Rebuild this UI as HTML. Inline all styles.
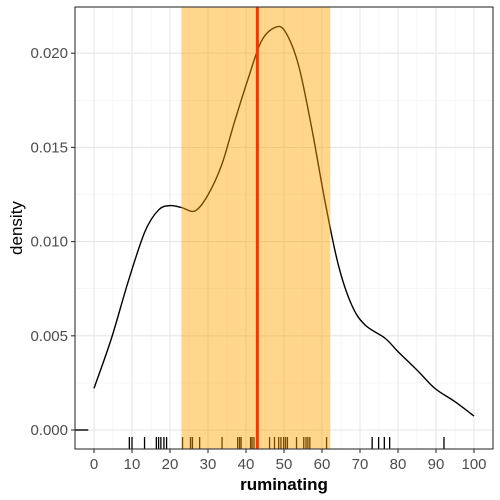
<!DOCTYPE html>
<html><head><meta charset="utf-8"><style>
body{margin:0;background:#fff;}
svg{display:block;font-family:"Liberation Sans",sans-serif;}
</style></head><body>
<svg id="chart" width="500" height="500"></svg>
<script>
const xTicks=[0,10,20,30,40,50,60,70,80,90,100];
const yTicks=[0,0.005,0.010,0.015,0.020];
const yTickLabels=["0.000","0.005","0.010","0.015","0.020"];
const curveX=[0,4.6,9,13.4,17,20,23,26.6,30,33.6,37,40.6,44,47.6,50.3,53.8,57.3,60.8,64.3,67.8,71.3,76.6,80,85.4,89.7,95,100];
const curveY=[0.00221,0.00487,0.00788,0.01053,0.01168,0.01191,0.01181,0.01163,0.01248,0.01407,0.01637,0.01867,0.02062,0.02136,0.02115,0.01938,0.01602,0.01212,0.00876,0.00664,0.00558,0.00487,0.00416,0.0031,0.00221,0.0015,0.00074];
const rugValues=[9.3,10.0,13.3,16.4,17.0,17.6,18.4,19.1,23.3,25.4,25.9,27.8,33.7,37.8,38.3,38.7,41.2,41.6,42.1,42.8,46.2,47.5,48.6,49.2,49.9,50.4,50.9,53.3,55.2,55.8,56.3,56.8,61.2,73.2,74.9,76.4,77.8,92.1];
const bandRange=[23.0,62.2];
const meanValue=43.0;

const L=75,R=493,T=7,B=449;
const sx=v=>94+v*3.8;
const sy=v=>430-v/0.005*94.2;
const svg=document.getElementById('chart');
const NS='http://www.w3.org/2000/svg';
function add(tag,attrs,parent){const e=document.createElementNS(NS,tag);for(const k in attrs)e.setAttribute(k,attrs[k]);(parent||svg).appendChild(e);return e;}

for(let v=-5;v<=105;v+=10){const x=sx(v);if(x>L&&x<R){const g=add('line',{x1:x,x2:x,y1:T,y2:B,stroke:'#f0f0f0','stroke-width':0.6});

}}
for(let v=-0.0025;v<=0.0225;v+=0.005){const y=sy(v);if(y>T&&y<B){const g=add('line',{x1:L,x2:R,y1:y,y2:y,stroke:'#f0f0f0','stroke-width':0.6});

}}
xTicks.forEach(v=>{const g=add('line',{x1:sx(v),x2:sx(v),y1:T,y2:B,stroke:'#e6e6e6','stroke-width':1.1});

});
yTicks.forEach(v=>{const g=add('line',{x1:L,x2:R,y1:sy(v),y2:sy(v),stroke:'#e6e6e6','stroke-width':1.1});

});

// smooth density curve (Catmull-Rom -> bezier)
const pts=curveX.map((x,i)=>[sx(x),sy(curveY[i])]);
let d='M'+pts[0][0]+','+pts[0][1];
for(let i=0;i<pts.length-1;i++){
  const p0=pts[Math.max(0,i-1)],p1=pts[i],p2=pts[i+1],p3=pts[Math.min(pts.length-1,i+2)];
  const c1=[p1[0]+(p2[0]-p0[0])/6,p1[1]+(p2[1]-p0[1])/6];
  const c2=[p2[0]-(p3[0]-p1[0])/6,p2[1]-(p3[1]-p1[1])/6];
  d+=' C'+c1[0]+','+c1[1]+' '+c2[0]+','+c2[1]+' '+p2[0]+','+p2[1];
}
const c=add('path',{d:d,fill:'none',stroke:'#000','stroke-width':1.4,'stroke-linejoin':'round'});


const z=add('line',{x1:L,x2:sx(-1.5),y1:sy(0),y2:sy(0),stroke:'#000','stroke-width':1.4});



rugValues.forEach(v=>{const r=add('line',{x1:sx(v),x2:sx(v),y1:437,y2:449,stroke:'#000','stroke-width':1.3});

});

const band=add('rect',{x:sx(bandRange[0]),y:T,width:sx(bandRange[1])-sx(bandRange[0]),height:B-T,fill:'rgba(255,165,0,0.45)'});


const ml=add('line',{x1:sx(meanValue),x2:sx(meanValue),y1:T,y2:B,stroke:'#ff3300','stroke-width':3});



const bd=add('rect',{x:L,y:T,width:R-L,height:B-T,fill:'none',stroke:'#333','stroke-width':1.1});



xTicks.forEach(v=>{const t=add('line',{x1:sx(v),x2:sx(v),y1:B,y2:B+4,stroke:'#333','stroke-width':1.1});


const lb=add('text',{x:sx(v),y:469,'text-anchor':'middle','font-size':15,fill:'#4d4d4d'});lb.textContent=v;

});
yTicks.forEach((v,i)=>{const t=add('line',{x1:L-4,x2:L,y1:sy(v),y2:sy(v),stroke:'#333','stroke-width':1.1});


const lb=add('text',{x:L-7,y:sy(v)+5,'text-anchor':'end','font-size':15,fill:'#4d4d4d'});lb.textContent=yTickLabels[i];

});
const xt=add('text',{x:284,y:490,'text-anchor':'middle','font-size':17,'font-weight':'bold',fill:'#000'});xt.textContent='ruminating';


const yt=add('text',{x:22,y:228,'text-anchor':'middle','font-size':17,fill:'#000',transform:'rotate(-90 22 228)'});yt.textContent='density';


</script>
</body></html>
